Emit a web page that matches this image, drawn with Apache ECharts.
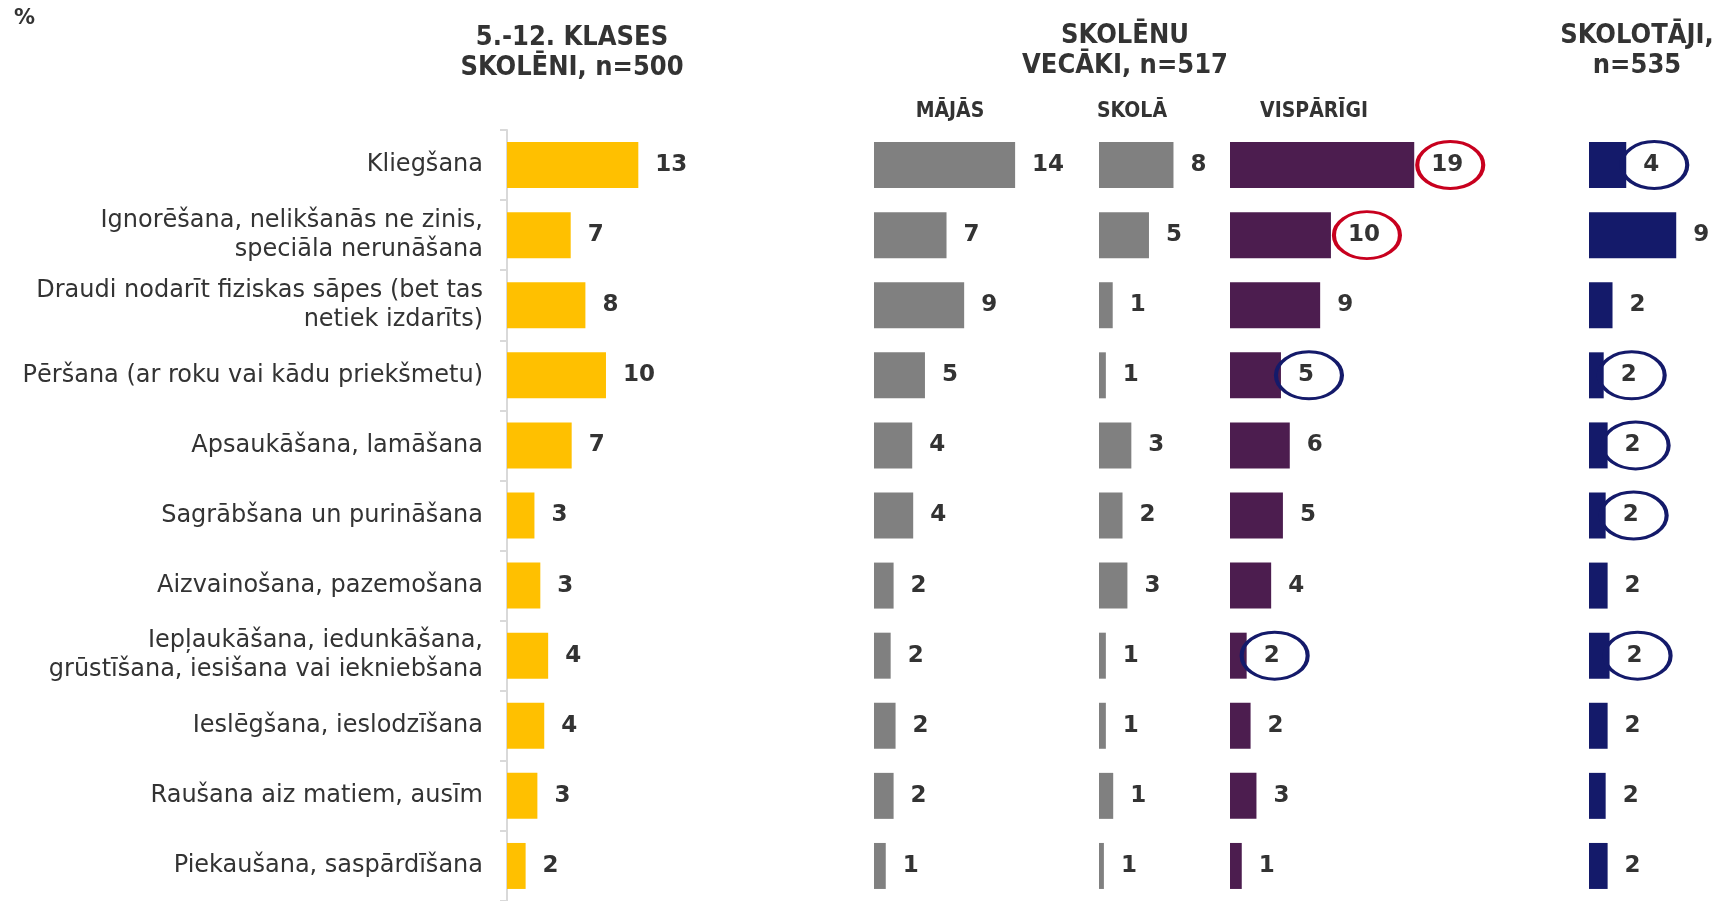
<!DOCTYPE html>
<html>
<head>
<meta charset="utf-8">
<script src="https://cdn.jsdelivr.net/npm/echarts@6/dist/echarts.min.js"></script>
<style>
html,body{margin:0;padding:0;background:#fff;}
#c{width:1727px;height:901px;}
</style>
</head>
<body>
<div id="c"></div>
<script>
const categories = [
  'Kliegšana',
  'Ignorēšana, nelikšanās ne zinis,\nspeciāla nerunāšana',
  'Draudi nodarīt fiziskas sāpes (bet tas\nnetiek izdarīts)',
  'Pēršana (ar roku vai kādu priekšmetu)',
  'Apsaukāšana, lamāšana',
  'Sagrābšana un purināšana',
  'Aizvainošana, pazemošana',
  'Iepļaukāšana, iedunkāšana,\ngrūstīšana, iesišana vai iekniebšana',
  'Ieslēgšana, ieslodzīšana',
  'Raušana aiz matiem, ausīm',
  'Piekaušana, saspārdīšana'
];
const students = [13.4, 6.5, 8.0, 10.1, 6.6, 2.8, 3.4, 4.2, 3.8, 3.1, 1.9];
const parentsHome = [14.4, 7.4, 9.2, 5.2, 3.9, 4.0, 2.0, 1.7, 2.2, 2.0, 1.2];
const parentsSchool = [7.6, 5.1, 1.4, 0.7, 3.3, 2.4, 2.9, 0.7, 0.7, 1.45, 0.5];
const parentsGeneral = [18.8, 10.3, 9.2, 5.2, 6.1, 5.4, 4.2, 1.7, 2.1, 2.7, 1.2];
const teachers = [3.8, 8.9, 2.4, 1.5, 1.9, 1.7, 1.9, 2.1, 1.9, 1.7, 1.9];
const circleGeneral = ['red', 'red', '', 'navy', '', '', '', 'navy', '', '', ''];
const circleTeachers = ['navy', '', '', 'navy', 'navy', 'navy', '', 'navy', '', '', ''];

const titleLines = [
  {text: '5.-12. KLASES\nSKOLĒNI, n=500', x: 572, y: 53},
  {text: 'SKOLĒNU\nVECĀKI, n=517', x: 1125, y: 51},
  {text: 'SKOLOTĀJI,\nn=535', x: 1637, y: 51}
];
const subHeaders = [
  {text: 'MĀJĀS', x: 950},
  {text: 'SKOLĀ', x: 1132},
  {text: 'VISPĀRĪGI', x: 1314}
];

const TXT = '#333333';
const FONT = "'DejaVu Sans', Verdana, sans-serif";
const COND = "'DejaVu Sans Condensed', 'DejaVu Sans', sans-serif";
const colors = {
  yellow: '#FFC000', gray: '#808080', purple: '#4C1D4F', navy: '#141A6A',
  red: '#C8001E', ring: '#141A6A'
};
const PX_PER_UNIT = 9.8;

const panels = [
  {data: students, left: 507, width: 196, color: colors.yellow, axis: true},
  {data: parentsHome, left: 874, width: 196, color: colors.gray},
  {data: parentsSchool, left: 1099, width: 120, color: colors.gray},
  {data: parentsGeneral, left: 1230, width: 196, color: colors.purple, rings: circleGeneral},
  {data: teachers, left: 1589, width: 130, color: colors.navy, rings: circleTeachers}
];

const grid = [], xAxis = [], yAxis = [], series = [];
panels.forEach((p, i) => {
  grid.push({left: p.left, top: 130, width: p.width, height: 776});
  xAxis.push({type: 'value', gridIndex: i, min: 0, max: p.width / PX_PER_UNIT, show: false});
  yAxis.push({
    type: 'category', gridIndex: i, inverse: true, data: categories,
    show: !!p.axis,
    axisLine: {show: !!p.axis, lineStyle: {color: '#d9d9d9', width: 2}},
    axisTick: {show: !!p.axis, length: 7, lineStyle: {color: '#d9d9d9', width: 2}},
    axisLabel: {show: !!p.axis, color: TXT, fontFamily: FONT, fontSize: 24, lineHeight: 29, margin: 24, align: 'right'},
    splitLine: {show: false}
  });
  series.push({
    type: 'bar', xAxisIndex: i, yAxisIndex: i, data: p.data, barWidth: 46,
    itemStyle: {color: p.color},
    label: {
      show: true, position: 'right', distance: 17, color: TXT,
      fontFamily: FONT, fontWeight: 'bold', fontSize: 23,
      formatter: (d) => String(Math.round(d.value))
    },
    silent: true
  });
  if (p.rings) {
    const pts = [];
    p.rings.forEach((r, k) => {
      if (!r) return;
      const digits = String(Math.round(p.data[k])).length;
      pts.push({
        value: [p.data[k], k],
        symbolOffset: [17 + digits * 8 + 3, 0],
        itemStyle: {borderColor: r === 'red' ? colors.red : colors.ring}
      });
    });
    series.push({
      type: 'scatter', xAxisIndex: i, yAxisIndex: i, data: pts,
      symbol: 'circle', symbolSize: [66, 47], z: 5,
      itemStyle: {color: 'rgba(0,0,0,0)', borderWidth: 3.5, opacity: 1},
      silent: true
    });
  }
});

const graphic = [
  {type: 'text', x: 14, y: 19, style: {text: '%', fill: TXT, font: "bold 21px " + FONT, textAlign: 'left', textVerticalAlign: 'middle'}}
];
titleLines.forEach(t => graphic.push({
  type: 'text', x: t.x, y: t.y,
  style: {text: t.text, fill: TXT, font: "bold 27px " + COND, lineHeight: 30, textAlign: 'center', textVerticalAlign: 'middle'}
}));
subHeaders.forEach(t => graphic.push({
  type: 'text', x: t.x, y: 112,
  style: {text: t.text, fill: TXT, font: "bold 21px " + COND, textAlign: 'center', textVerticalAlign: 'middle'}
}));

const chart = echarts.init(document.getElementById('c'), null, {renderer: 'canvas'});
chart.setOption({animation: false, grid, xAxis, yAxis, series, graphic});
</script>
</body>
</html>
